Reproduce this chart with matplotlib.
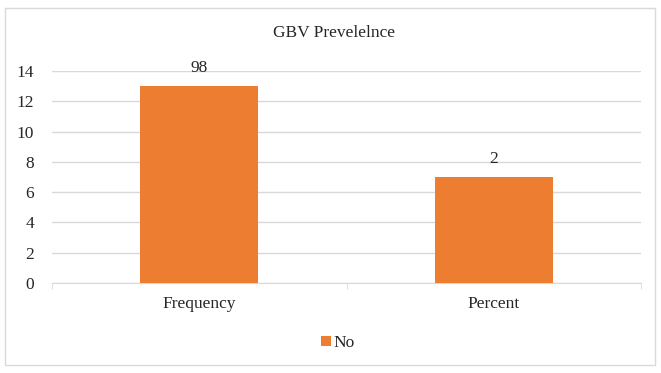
import numpy as np
import matplotlib.pyplot as plt
from matplotlib.patches import Rectangle

# GBV prevalence data
categories = ['Frequency', 'Percent']
values = [13, 7]
valueLabels = ['98', '2']
seriesName = 'No'

plt.rcParams['font.family'] = ['Liberation Serif', 'DejaVu Serif']
txtColor = '#262626'

fig = plt.figure(figsize=(6.61, 3.73), dpi=100)
# outer chart frame
fig.patches.append(Rectangle((5/661, 1-365/373), 650/661, 357/373, transform=fig.transFigure,
    fill=False, edgecolor='#d9d9d9', linewidth=1))

ax = fig.add_axes([52/661, 1-283/373, 589/661, 212/373])
x = np.arange(len(categories))
bars = ax.bar(x, values, width=0.4, color='#ed7d31', label=seriesName, zorder=3)
for b, lab in zip(bars, valueLabels):
    ax.annotate(lab, (b.get_x()+b.get_width()/2, b.get_height()), xytext=(0, 7),
        textcoords='offset points', ha='center', va='bottom', fontsize=12.5, color=txtColor)

ax.set_xlim(-0.5, len(categories)-0.5)
ax.set_ylim(0, 14)
ax.set_yticks(range(0, 15, 2))
ax.yaxis.grid(True, color='#d9d9d9', linewidth=1, zorder=0)
ax.set_xticks(x)
ax.set_xticklabels(categories)
ax.set_xticks([-0.5, 0.5, 1.5], minor=True)
ax.tick_params(axis='x', which='major', length=0, pad=9, labelsize=12.5, labelcolor=txtColor)
ax.tick_params(axis='x', which='minor', length=4, color='#d9d9d9', direction='out')
ax.tick_params(axis='y', length=0, pad=13, labelsize=12.5, labelcolor=txtColor)
for s in ['top', 'right', 'left']:
    ax.spines[s].set_visible(False)
ax.spines['bottom'].set_color('#d9d9d9')

fig.text(334/661, 1-33/373, 'GBV Prevelelnce', fontsize=12.5, color=txtColor, ha='center', va='center')
fig.legend(loc='center', bbox_to_anchor=(338/661, 1-343/373), frameon=False, fontsize=12.5,
    handlelength=0.55, handleheight=0.55, handletextpad=0.15, labelcolor=txtColor)

plt.savefig('out.png', dpi=100)
